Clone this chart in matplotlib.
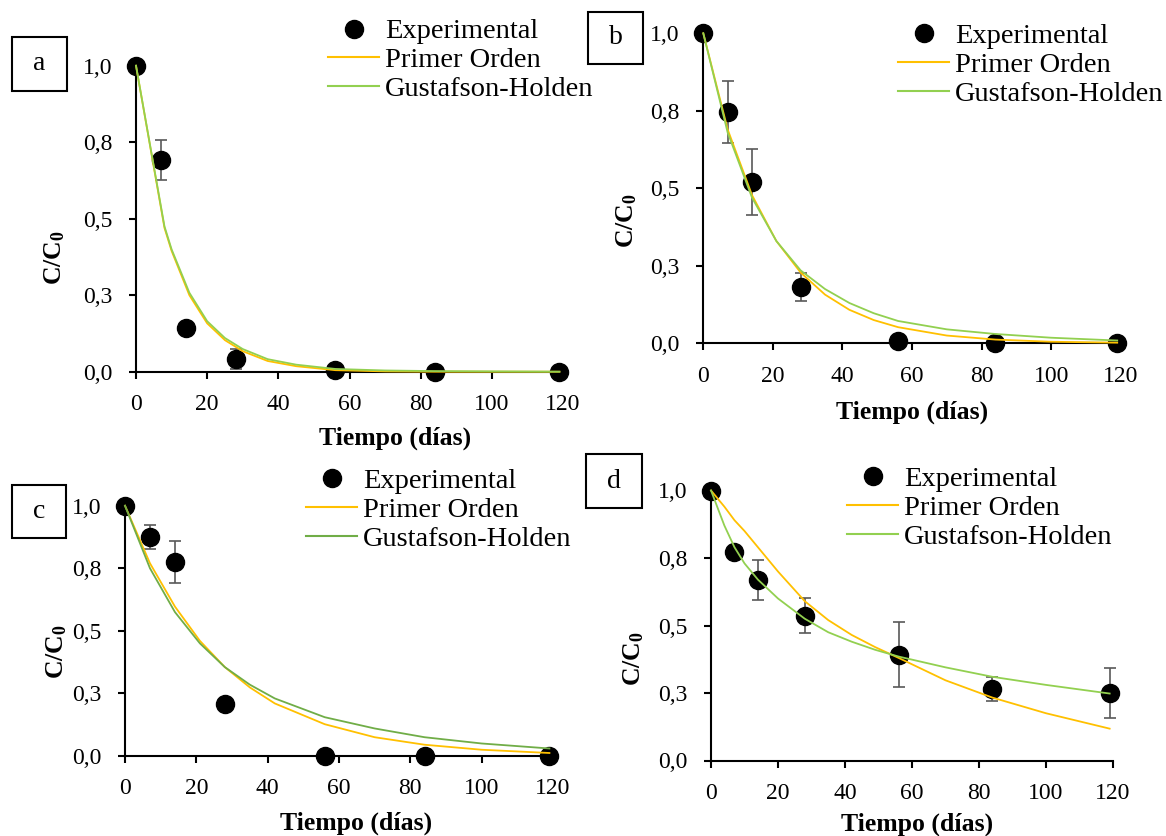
import matplotlib
matplotlib.use('Agg')
import matplotlib.pyplot as plt
from matplotlib.patches import Rectangle
from matplotlib.lines import Line2D

plt.rcParams['font.family'] = ['Liberation Serif', 'DejaVu Serif']
plt.rcParams['mathtext.fontset'] = 'custom'
plt.rcParams['mathtext.rm'] = 'Liberation Serif'
plt.rcParams['mathtext.bf'] = 'Liberation Serif:bold'

W, H = 1166, 836

# Datos experimentales (tiempo en dias)
t_exp = [0, 7, 14, 28, 56, 84, 119]

a_exp = [1.0, 0.692, 0.142, 0.041, 0.006, 0.0, 0.0]
a_err = [0, 0.064, 0, 0.033, 0, 0, 0]
b_exp = [1.0, 0.747, 0.52, 0.181, 0.008, 0.0, 0.0]
b_err = [0, 0.10, 0.107, 0.046, 0, 0, 0]
c_exp = [1.0, 0.876, 0.774, 0.206, 0.0, 0.0, 0.0]
c_err = [0, 0.048, 0.084, 0, 0, 0, 0]
d_exp = [1.0, 0.773, 0.668, 0.537, 0.392, 0.266, 0.251]
d_err = [0, 0.0, 0.073, 0.065, 0.121, 0.045, 0.093]

# Modelos ajustados
a_t = [0, 8, 10, 15, 20, 25, 30, 37, 45, 56, 70, 84, 100, 119]
a_po = [1.0, 0.47, 0.395, 0.25, 0.158, 0.103, 0.067, 0.035, 0.018, 0.005, 0.001, 0.0, 0.0, 0.0]
a_gh = [1.0, 0.475, 0.40, 0.258, 0.165, 0.11, 0.074, 0.041, 0.023, 0.009, 0.004, 0.002, 0.001, 0.0]

b_t = [0, 7, 14, 21, 28, 35, 42, 49, 56, 70, 84, 100, 119]
b_po = [1.0, 0.69, 0.478, 0.33, 0.228, 0.157, 0.108, 0.075, 0.052, 0.025, 0.012, 0.005, 0.002]
b_gh = [1.0, 0.68, 0.47, 0.33, 0.235, 0.175, 0.13, 0.097, 0.072, 0.045, 0.03, 0.018, 0.009]

c_t = [0, 7, 14, 21, 28, 35, 42, 56, 70, 84, 100, 119]
c_po = [1.0, 0.77, 0.597, 0.46, 0.355, 0.274, 0.21, 0.127, 0.075, 0.045, 0.025, 0.012]
c_gh = [1.0, 0.75, 0.575, 0.45, 0.355, 0.285, 0.23, 0.155, 0.11, 0.075, 0.05, 0.03]

d_t = [0, 4, 7, 10, 14, 20, 28, 35, 42, 49, 56, 70, 84, 100, 119]
d_po = [1.0, 0.94, 0.89, 0.85, 0.79, 0.70, 0.59, 0.52, 0.465, 0.42, 0.38, 0.297, 0.233, 0.175, 0.118]
d_gh = [1.0, 0.87, 0.79, 0.73, 0.67, 0.60, 0.525, 0.475, 0.44, 0.41, 0.385, 0.345, 0.31, 0.28, 0.248]

yticks = [0, 0.25, 0.5, 0.75, 1.0]
ytick_labels = ['0,0', '0,3', '0,5', '0,8', '1,0']
xticks = [0, 20, 40, 60, 80, 100, 120]

orange = '#FFC000'
green = '#92D050'

# layout en pixeles: ejes (x0, x1, ytop, ybottom), leyenda, etiquetas, caja
panels = [
    dict(letter='a', exp=a_exp, err=a_err, t=a_t, po=a_po, gh=a_gh, gcol=green,
         ax=(136, 563, 65.7, 371.7), leg=(328, 60.3), xl=(395, 438), yl=(55, 258),
         box=(11.7, 36.7, 66.7, 91)),
    dict(letter='b', exp=b_exp, err=b_err, t=b_t, po=b_po, gh=b_gh, gcol=green,
         ax=(703.3, 1120.7, 33.3, 343.3), leg=(898, 65), xl=(912, 412), yl=(627, 221),
         box=(588, 11.7, 643, 64)),
    dict(letter='c', exp=c_exp, err=c_err, t=c_t, po=c_po, gh=c_gh, gcol='#70AD47',
         ax=(125, 553, 505.7, 756), leg=(306, 510), xl=(356, 823), yl=(57, 652),
         box=(11.7, 485, 65.7, 538)),
    dict(letter='d', exp=d_exp, err=d_err, t=d_t, po=d_po, gh=d_gh, gcol=green,
         ax=(711, 1113, 490.5, 760.5), leg=(847, 508), xl=(917, 824), yl=(634, 659),
         box=(585.7, 454, 641.7, 508)),
]

fig = plt.figure(figsize=(W / 100, H / 100), dpi=100)

for p in panels:
    x0, x1, yt, yb = p['ax']
    ax = fig.add_axes([x0 / W, 1 - yb / H, (x1 - x0) / W, (yb - yt) / H])
    ax.set_xlim(0, 120)
    ax.set_ylim(0, 1)

    ax.errorbar(t_exp, p['exp'], yerr=p['err'], fmt='none', ecolor='#595959',
                elinewidth=1.2, capsize=4, capthick=1.2, zorder=2, clip_on=False)
    ax.plot(t_exp, p['exp'], 'o', color='black', ms=13, zorder=3, clip_on=False)
    ax.plot(p['t'], p['po'], color=orange, lw=1.3, zorder=4, clip_on=False)
    ax.plot(p['t'], p['gh'], color=p['gcol'], lw=1.3, zorder=4, clip_on=False)

    ax.set_xticks(xticks)
    ax.set_yticks(yticks)
    ax.set_yticklabels(ytick_labels)
    for s in ['top', 'right']:
        ax.spines[s].set_visible(False)
    for s in ['left', 'bottom']:
        ax.spines[s].set_linewidth(1.5)
    ax.tick_params(direction='out', length=5, width=1.5, labelsize=17)
    ax.tick_params(axis='x', pad=11)
    ax.tick_params(axis='y', pad=12)

    handles = [
        Line2D([], [], ls='none', marker='o', color='black', ms=13),
        Line2D([], [], color=orange, lw=1.5),
        Line2D([], [], color=p['gcol'], lw=1.5),
    ]
    lx, ly = p['leg']
    ax.legend(handles, ['Experimental', 'Primer Orden', 'Gustafson-Holden'],
              loc='center left', bbox_to_anchor=(lx / W, 1 - ly / H),
              bbox_transform=fig.transFigure, frameon=False, fontsize=20.5,
              borderpad=0, borderaxespad=0, handlelength=1.8,
              handletextpad=0.2, labelspacing=0.1)

    fig.text(p['xl'][0] / W, 1 - p['xl'][1] / H, 'Tiempo (días)', fontsize=18.5,
             fontweight='bold', ha='center', va='center')
    fig.text(p['yl'][0] / W, 1 - p['yl'][1] / H, r'$\mathbf{C/C_0}$', fontsize=18.5,
             rotation=90, ha='center', va='center')

    bx0, by0, bx1, by1 = p['box']
    fig.add_artist(Rectangle((bx0 / W, 1 - by1 / H), (bx1 - bx0) / W, (by1 - by0) / H,
                             transform=fig.transFigure, fill=False, lw=1.5, ec='black'))
    fig.text((bx0 + bx1) / 2 / W, 1 - (by0 + by1) / 2 / H, p['letter'], fontsize=20,
             ha='center', va='center')

fig.savefig('out.png', dpi=100)
